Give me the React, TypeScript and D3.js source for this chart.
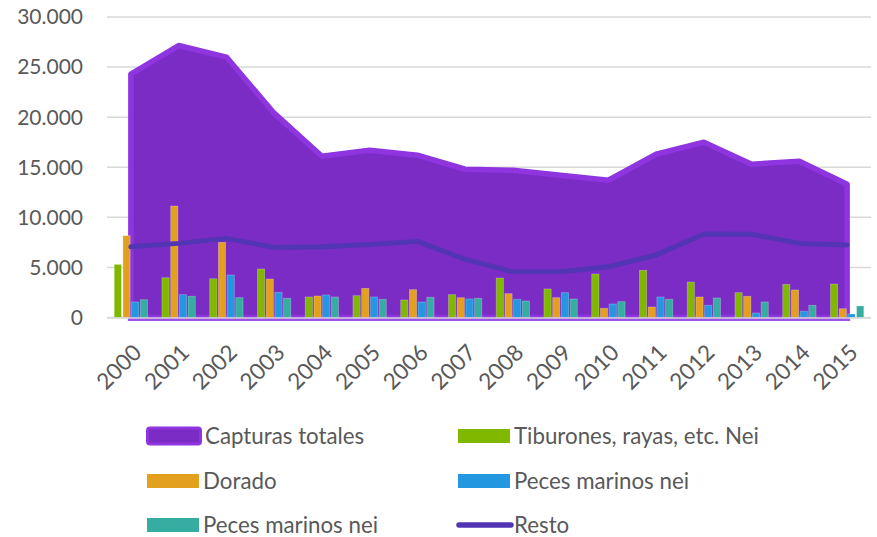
import React from "react";
import * as d3 from "d3";

const years = ["2000", "2001", "2002", "2003", "2004", "2005", "2006", "2007", "2008", "2009", "2010", "2011", "2012", "2013", "2014", "2015"];

const capturasTotales = [24300, 27150, 26000, 20400, 16100, 16700, 16200, 14800, 14700, 14200, 13700, 16300, 17500, 15300, 15600, 13300];
const tiburones = [5300, 3970, 3870, 4840, 2050, 2180, 1750, 2280, 3940, 2850, 4340, 4710, 3540, 2480, 3310, 3340];
const dorado = [8170, 11130, 7500, 3840, 2150, 2910, 2780, 1980, 2380, 1980, 920, 1050, 2050, 2120, 2750, 880];
const pecesMarinos1 = [1550, 2280, 4240, 2510, 2250, 2050, 1550, 1850, 1820, 2480, 1350, 2050, 1220, 450, 620, 350];
const pecesMarinos2 = [1780, 2120, 1980, 1920, 2050, 1820, 2020, 1920, 1650, 1850, 1580, 1820, 1950, 1550, 1220, 1150];
const resto = [7060, 7400, 7900, 7000, 7070, 7300, 7600, 5800, 4570, 4570, 5070, 6240, 8330, 8300, 7400, 7240];

const yTicks = [0, 5000, 10000, 15000, 20000, 25000, 30000];

const barSeries = [
  { name: "Tiburones, rayas, etc. Nei", values: tiburones, color: "#80B800" },
  { name: "Dorado", values: dorado, color: "#E3A01F" },
  { name: "Peces marinos nei", values: pecesMarinos1, color: "#2397E0" },
  { name: "Peces marinos nei", values: pecesMarinos2, color: "#35ADA1" },
];

const W = 877;
const H = 537;
const font = "Lato, 'Open Sans', sans-serif";
const textColor = "#595959";

export default function App() {
  const x = d3.scaleBand<string>().domain(years).range([107, 871]).padding(0);
  const y = d3.scaleLinear().domain([0, 30000]).range([317.5, 17]);
  const xs = d3
    .scaleBand<number>()
    .domain(barSeries.map((_, i) => i))
    .range([0, x.bandwidth()])
    .paddingInner(0.17)
    .paddingOuter(0.83);

  const cx = (yr: string) => (x(yr) as number) + x.bandwidth() / 2;
  const fmt = (v: number) => (v === 0 ? "0" : d3.format(",")(v).replace(/,/g, "."));

  const area = d3
    .area<number>()
    .x((_, i) => cx(years[i]))
    .y0(y(0))
    .y1((d) => y(d));
  const line = d3
    .line<number>()
    .x((_, i) => cx(years[i]))
    .y((d) => y(d));

  const legend = [
    { label: "Capturas totales", kind: "area", color: "#7B2CC4", x: 146, row: 0 },
    { label: barSeries[0].name, kind: "bar", color: barSeries[0].color, x: 458, row: 0 },
    { label: barSeries[1].name, kind: "bar", color: barSeries[1].color, x: 147, row: 1 },
    { label: barSeries[2].name, kind: "bar", color: barSeries[2].color, x: 458, row: 1 },
    { label: barSeries[3].name, kind: "bar", color: barSeries[3].color, x: 147, row: 2 },
    { label: "Resto", kind: "line", color: "#5135B5", x: 458, row: 2 },
  ];
  const rowY = [436, 481, 525];

  return (
    <svg width={W} height={H} style={{ position: "absolute", left: 0, top: 0 }} fontFamily={font}>
      <rect width={W} height={H} fill="#ffffff" />
      {yTicks.map((t) => (
        <g key={t}>
          <line x1={107} x2={871} y1={y(t)} y2={y(t)} stroke="#D9D9D9" strokeWidth={1.5} />
          <text x={83} y={y(t)} dy="0.35em" textAnchor="end" fontSize={21} fill={textColor}>
            {fmt(t)}
          </text>
        </g>
      ))}

      <path d={area(capturasTotales) as string} fill="#7B2CC4" stroke="#8E35E0" strokeWidth={5.5} strokeLinejoin="round" />
      <line x1={cx(years[0]) - 3} x2={cx(years[15]) + 3} y1={320} y2={320} stroke="#9B50EA" strokeWidth={2} />

      {barSeries.map((s, si) =>
        s.values.map((v, i) => (
          <rect
            key={`${si}-${i}`}
            x={(x(years[i]) as number) + (xs(si) as number)}
            y={y(v)}
            width={xs.bandwidth()}
            height={y(0) - y(v)}
            fill={s.color}
            stroke="rgba(255,255,255,0.3)"
            strokeWidth={0.8}
          />
        ))
      )}
      <line x1={107} x2={871} y1={y(0) + 0.5} y2={y(0) + 0.5} stroke="#D9D9D9" strokeWidth={1.5} />

      <path d={line(resto) as string} fill="none" stroke="#5135B5" strokeWidth={5} strokeLinecap="round" strokeLinejoin="round" />

      {years.map((yr) => (
        <text
          key={yr}
          transform={`translate(${cx(yr) + 12},354) rotate(-45)`}
          textAnchor="end"
          fontSize={22.5}
          fill={textColor}
        >
          {yr}
        </text>
      ))}

      {legend.map((l, i) => {
        const cy = rowY[l.row];
        return (
          <g key={i}>
            {l.kind === "area" && (
              <rect x={l.x + 1.5} y={cy - 8} width={53} height={16} rx={2.5} fill="#7B2CC4" stroke="#8E35E0" strokeWidth={3} />
            )}
            {l.kind === "bar" && <rect x={l.x} y={cy - 7} width={52} height={14} fill={l.color} />}
            {l.kind === "line" && (
              <line x1={l.x + 1} x2={l.x + 53} y1={cy} y2={cy} stroke={l.color} strokeWidth={5.5} strokeLinecap="round" />
            )}
            <text x={l.kind === "area" ? 205 : l.x + 56} y={cy} dy="0.35em" fontSize={22.3} fill={textColor}>
              {l.label}
            </text>
          </g>
        );
      })}
    </svg>
  );
}
